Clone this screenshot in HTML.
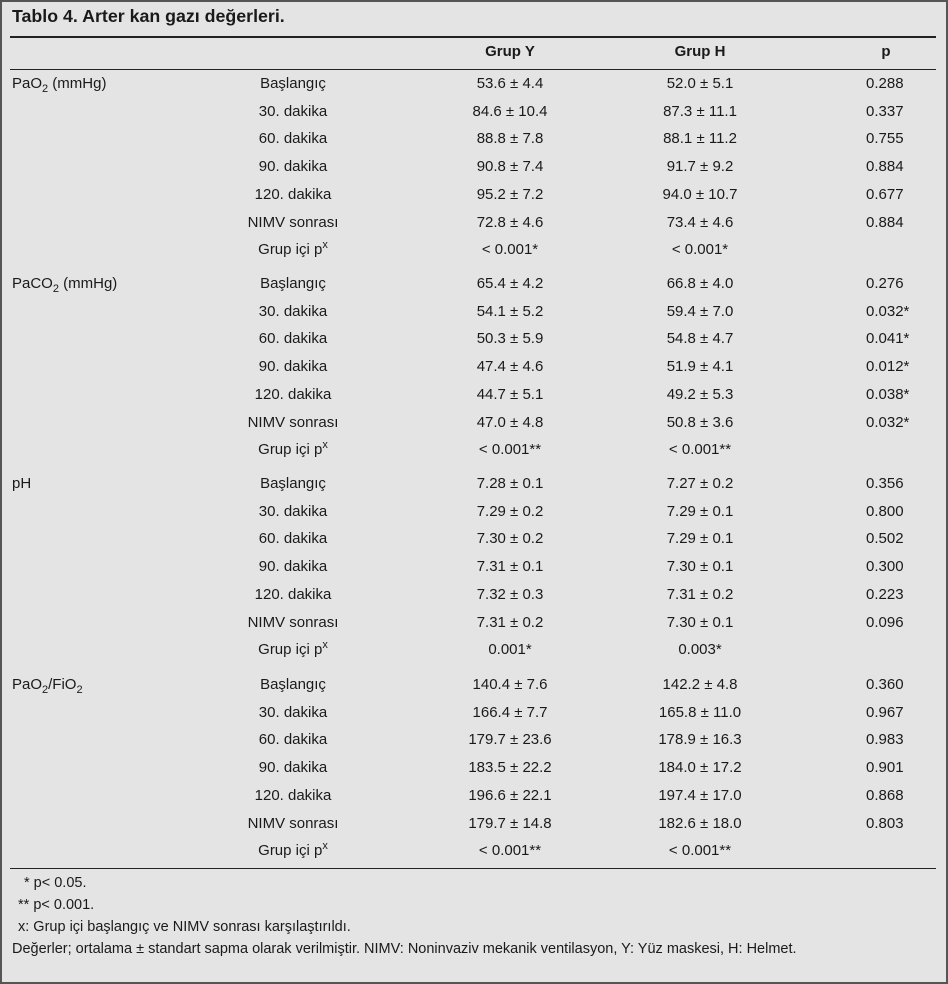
<!DOCTYPE html>
<html><head><meta charset="utf-8"><style>
html,body{margin:0;padding:0;}
body{width:948px;height:984px;position:relative;background:#fff;font-family:"Liberation Sans",sans-serif;color:#1a1a1a;overflow:hidden;}
#box{position:absolute;left:0;top:0;width:944px;height:980px;border:2px solid #555;background:#e4e4e4;}
.t{position:absolute;font-size:15px;line-height:18px;white-space:nowrap;}
.c{transform:translateX(-50%);}
.h{position:absolute;left:10px;width:926px;background:#222;}
sub{font-size:11px;vertical-align:-4px;line-height:0}
sup{font-size:11px;vertical-align:6px;line-height:0}
.f{font-size:14.5px;}
</style></head><body>
<div id="box"></div>
<div class="t" style="left:12px;top:7px;font-weight:bold;font-size:17.8px">Tablo 4. Arter kan gazı değerleri.</div>
<div class="h" style="top:36px;height:2px"></div>
<div class="t c" style="left:510px;top:43px;font-weight:bold">Grup Y</div>
<div class="t c" style="left:700px;top:43px;font-weight:bold">Grup H</div>
<div class="t c" style="left:886px;top:43px;font-weight:bold">p</div>
<div class="h" style="top:69px;height:1px"></div>
<div class="h" style="top:868px;height:1px"></div>
<div id="rows"></div>
<script>
var groups=[
[75,'PaO<sub>2</sub> (mmHg)',[['53.6 ± 4.4','52.0 ± 5.1','0.288'],['84.6 ± 10.4','87.3 ± 11.1','0.337'],['88.8 ± 7.8','88.1 ± 11.2','0.755'],['90.8 ± 7.4','91.7 ± 9.2','0.884'],['95.2 ± 7.2','94.0 ± 10.7','0.677'],['72.8 ± 4.6','73.4 ± 4.6','0.884'],['&lt; 0.001*','&lt; 0.001*','']]],
[275,'PaCO<sub>2</sub> (mmHg)',[['65.4 ± 4.2','66.8 ± 4.0','0.276'],['54.1 ± 5.2','59.4 ± 7.0','0.032*'],['50.3 ± 5.9','54.8 ± 4.7','0.041*'],['47.4 ± 4.6','51.9 ± 4.1','0.012*'],['44.7 ± 5.1','49.2 ± 5.3','0.038*'],['47.0 ± 4.8','50.8 ± 3.6','0.032*'],['&lt; 0.001**','&lt; 0.001**','']]],
[475,'pH',[['7.28 ± 0.1','7.27 ± 0.2','0.356'],['7.29 ± 0.2','7.29 ± 0.1','0.800'],['7.30 ± 0.2','7.29 ± 0.1','0.502'],['7.31 ± 0.1','7.30 ± 0.1','0.300'],['7.32 ± 0.3','7.31 ± 0.2','0.223'],['7.31 ± 0.2','7.30 ± 0.1','0.096'],['0.001*','0.003*','']]],
[676,'PaO<sub>2</sub>/FiO<sub>2</sub>',[['140.4 ± 7.6','142.2 ± 4.8','0.360'],['166.4 ± 7.7','165.8 ± 11.0','0.967'],['179.7 ± 23.6','178.9 ± 16.3','0.983'],['183.5 ± 22.2','184.0 ± 17.2','0.901'],['196.6 ± 22.1','197.4 ± 17.0','0.868'],['179.7 ± 14.8','182.6 ± 18.0','0.803'],['&lt; 0.001**','&lt; 0.001**','']]]];
var labs=['Başlangıç','30. dakika','60. dakika','90. dakika','120. dakika','NIMV sonrası','Grup içi p<sup>x</sup>'];
var h='';
groups.forEach(function(g){
 h+='<div class="t" style="left:12px;top:'+g[0]+'px">'+g[1]+'</div>';
 g[2].forEach(function(r,i){
  var y=g[0]+i*27.7;
  h+='<div class="t c" style="left:293px;top:'+y+'px">'+labs[i]+'</div>';
  h+='<div class="t c" style="left:510px;top:'+y+'px">'+r[0]+'</div>';
  h+='<div class="t c" style="left:700px;top:'+y+'px">'+r[1]+'</div>';
  h+='<div class="t" style="left:866px;top:'+y+'px">'+r[2]+'</div>';
 });
});
document.getElementById('rows').innerHTML=h;
</script>
<div class="t f" style="left:24px;top:874px">* p&lt; 0.05.</div>
<div class="t f" style="left:18px;top:896px">** p&lt; 0.001.</div>
<div class="t f" style="left:18px;top:918px">x: Grup içi başlangıç ve NIMV sonrası karşılaştırıldı.</div>
<div class="t f" style="left:12px;top:940px">Değerler; ortalama ± standart sapma olarak verilmiştir. NIMV: Noninvaziv mekanik ventilasyon, Y: Yüz maskesi, H: Helmet.</div>
</body></html>
